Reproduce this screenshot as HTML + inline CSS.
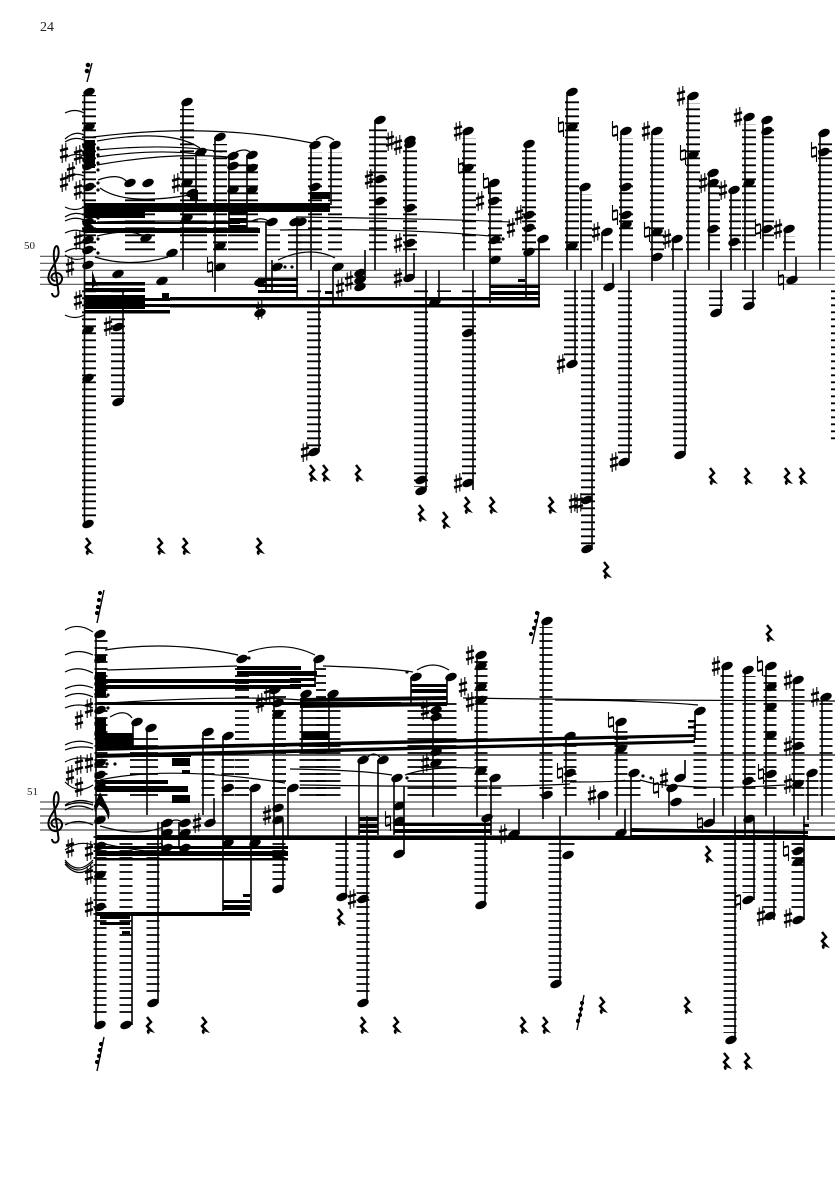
<!DOCTYPE html>
<html><head><meta charset="utf-8"><style>
html,body{margin:0;padding:0;background:#fff}
svg{display:block}
.t{font-family:"Liberation Serif",serif;fill:#222}
.led path{fill:none;stroke:#000;stroke-dasharray:1.8 5.2}
.st{fill:none;stroke:#000;stroke-width:1.6}
.tie{fill:none;stroke:#000;stroke-width:1.2}
</style></head><body>
<svg width="835" height="1181" viewBox="0 0 835 1181" xmlns="http://www.w3.org/2000/svg">
<defs>
<ellipse id="n" cx="0" cy="0" rx="6" ry="3.8" transform="rotate(-22)"/>
<g id="s" fill="none" stroke="#000"><path d="M-1.8 -8.5V10M1.8 -10V8.5" stroke-width="1.1"/><path d="M-4 -2.2L4 -4.6M-4 4.6L4 2.2" stroke-width="2.6"/></g>
<g id="h" fill="none" stroke="#000"><path d="M-2.5 -10V5M2.5 -5V10" stroke-width="1.1"/><path d="M-2.5 -3.6L2.5 -5M-2.5 5L2.5 3.6" stroke-width="2.2"/></g>
<path id="r" d="M-2 -8L2 -3L-2 1L2 5.5C-1 4.5 -2 6 0 8.5" fill="none" stroke="#000" stroke-width="2.5"/>
<path id="c" d="M55.5 281C51 281 50 275 54 273.5C60 271.5 64 277 61 282C58 287 50 286 48.5 279C47.5 272 55 265 58 257C59.5 251 58 246 56.5 246C54 247 53 254 54.5 262L58.5 292C59 298 52 298 52 293" fill="none" stroke="#000" stroke-width="2"/>
<g id="d"><circle cx="0" cy="0" r="1.6"/></g>
</defs>
<text class="t" x="40" y="31" font-size="14">24</text>
<text class="t" x="24" y="249" font-size="11">50</text>
<text class="t" x="27" y="795" font-size="11">51</text>

<!-- staves -->
<path d="M40 256.3H835M40 263.3H835M40 270.3H835M40 277.3H835M40 284.3H835M40 802H835M40 809H835M40 816H835M40 823H835M40 830H835" stroke="#555" stroke-width="1.2" fill="none"/>
<use href="#c"/><use href="#c" y="546"/>

<!-- ledgers staff 1 up -->
<g class="led">
<path stroke-width="14" d="M89 250.2V95M187 250.2V109M200 250.2V159M220 250.2V144M273 250.2V229M295 250.2V229M315 250.2V152M335 250.2V152M469 250.2V138"/>
<path stroke-width="30" d="M140 250.2V190M243 250.2V163"/>
<path stroke-width="18" d="M378 250.2V127"/>
<path stroke-width="14" d="M410 250.2V148M302 250.2V229M495 250.2V190M529 250.2V150M543 250.2V246M572 250.2V99M626 250.2V138M657 250.2V138M693 250.2V103M749 250.2V124M825 250.2V140"/>
<path stroke-width="12" d="M586 250.2V194M607 250.2V239M677 250.2V246M714 250.2V180M735 250.2V197M768 250.2V127M789 250.2V236"/>
<!-- down -->
<path stroke-width="14" d="M89 290.4V520M118 290.4V397M314 290.4V447M421 290.4V487M444 290.4V292M469 290.4V478M571 290.4V357M588 290.4V545M625 290.4V455M680 290.4V450M716 290.4V306M749 290.4V300"/>
<path stroke-width="6" d="M834 290.4V440"/>
<!-- staff 2 up -->
<path stroke-width="13" d="M101 795.9V640M208 795.9V738M228 795.9V742M546 795.9V627M570 795.9V745M621 795.9V730M634 795.9V780M700 795.9V724M727 795.9V672M749 795.9V676M770 795.9V672M798 795.9V686M826 795.9V703M481 795.9V660M495 795.9V785M812 795.9V780"/>
<path stroke-width="28" d="M144 795.9V735"/>
<path stroke-width="14" d="M242 795.9V668M279 795.9V695"/>
<path stroke-width="10" d="M321 795.9V665"/>
<path stroke-width="41" d="M320 795.9V710"/>
<path stroke-width="49" d="M432 795.9V700"/>
<!-- staff 2 down -->
<path stroke-width="13" d="M100 836.1V1018M126 836.1V1018M153 836.1V996M342 836.1V890M363 836.1V996M481 836.1V898M279 836.1V880M555 836.1V978M730 836.1V1033M749 836.1V893M770 836.1V910M798 836.1V912M568 836.1V850"/>
</g>

<!-- beams staff 1 -->
<g fill="#000">
<rect x="84" y="140" width="11" height="28"/>
<rect x="85" y="203" width="245" height="9"/>
<rect x="85" y="212" width="60" height="6"/>
<rect x="310" y="192" width="20" height="7"/>
<rect x="229" y="210" width="18" height="5"/>
<rect x="229" y="218" width="18" height="5"/>
<rect x="229" y="225" width="18" height="3"/>
<rect x="85" y="222" width="155" height="2"/>
<rect x="85" y="228" width="175" height="5"/>
<rect x="85" y="282" width="60" height="3.5"/>
<rect x="85" y="288" width="60" height="4"/>
<rect x="85" y="295" width="60" height="14"/>
<rect x="145" y="298" width="25" height="3"/>
<rect x="145" y="304" width="25" height="3"/>
<rect x="85" y="310" width="85" height="3.5"/>
<rect x="162" y="293" width="7" height="5"/>
<rect x="170" y="297" width="370" height="3.5"/>
<rect x="170" y="304" width="370" height="3.5"/>
<rect x="258" y="278" width="40" height="3"/>
<rect x="258" y="284" width="40" height="3"/>
<rect x="258" y="290" width="40" height="3"/>
<rect x="325" y="291" width="8" height="3"/>
<rect x="490" y="285" width="50" height="3"/>
<rect x="490" y="291" width="50" height="4"/>
<rect x="518" y="279" width="7" height="3"/>
<rect x="190" y="190" width="8" height="10"/>
<path d="M92 290C94 284 98 284 100 292L97 285L92 270Z"/>

<!-- beams staff 2 -->
<rect x="95" y="655" width="11" height="6"/>
<rect x="95" y="672" width="11" height="25"/>
<rect x="95" y="718" width="11" height="20"/>
<rect x="96" y="679" width="205" height="4"/>
<rect x="96" y="685" width="205" height="4"/>
<rect x="237" y="666" width="64" height="4"/>
<rect x="237" y="671" width="80" height="5"/>
<rect x="290" y="678" width="26" height="3"/>
<rect x="290" y="684" width="26" height="3"/>
<rect x="96" y="702" width="305" height="3"/>
<polygon points="96,747 695,734 695,737 96,751"/>
<polygon points="96,754 695,740 695,743 96,758"/>
<polygon points="300,698 447,696 447,700 300,702"/>
<polygon points="300,703 447,702 447,706 300,708"/>
<rect x="411" y="684" width="36" height="3"/>
<rect x="411" y="689" width="36" height="4"/>
<rect x="96" y="733" width="37" height="17"/>
<rect x="302" y="732" width="27" height="8"/>
<rect x="96" y="755" width="95" height="2"/>
<rect x="172" y="758" width="18" height="8"/>
<rect x="182" y="770" width="8" height="4"/>
<rect x="172" y="795" width="18" height="8"/>
<rect x="96" y="780" width="72" height="4"/>
<rect x="96" y="786" width="92" height="6"/>
<polygon points="96,835 835,836 835,840 96,840"/>
<rect x="96" y="846" width="192" height="3"/>
<rect x="96" y="851" width="192" height="5"/>
<rect x="96" y="858" width="192" height="2.5"/>
<rect x="96" y="912" width="154" height="4"/>
<rect x="223" y="900" width="27" height="3"/>
<rect x="223" y="905" width="27" height="5"/>
<rect x="243" y="894" width="7" height="3"/>
<rect x="100" y="916" width="30" height="3"/>
<rect x="100" y="922" width="30" height="3"/>
<rect x="122" y="931" width="8" height="3"/>
<rect x="359" y="817" width="19" height="4"/>
<rect x="359" y="824" width="19" height="4"/>
<rect x="359" y="830" width="19" height="3"/>
<rect x="394" y="823" width="97" height="3"/>
<rect x="394" y="829" width="97" height="4"/>
<polygon points="631,828 808,831 808,834 631,832"/>
<polygon points="631,835 808,835 808,838 631,838"/>
<rect x="688" y="720" width="8" height="2.5"/>
<rect x="688" y="726" width="8" height="2.5"/>
<rect x="803" y="824" width="6" height="3"/>
<path d="M100 792L108 808C110 812 110 816 108 820C108 814 104 808 99 805L95 812L94 806Z"/>
</g>

<!-- stems -->
<path class="st" d="M84.5 92V525M123 290V402M183 102V270M196 152V205M215 137V292M229 156V228M247 155V228M266 222V292M272 260V292M297 222V297M311 145V270M331 145V205M319 270V452M333 267V305M375 120V270M406 142V278M414 253V278M365 250V280M426 270V490M439 270V302M464 131V270M473 270V490M490 183V303M526 144V298M539 239V305M567 92V270M581 187V270M575 270V364M592 270V550M602 232V270M613 263V287M621 131V270M629 270V462M652 131V281M673 239V270M685 270V455M688 96V270M709 173V270M721 270V313M731 190V270M745 117V270M753 270V306M763 120V270M785 229V270M796 257V280M820 133V270"/>
<path class="st" d="M96 634V1025M132 915V1025M158 822V1003M133 722V746M147 728V815M162 822V848M179 822V848M203 732V815M214 798V823M223 736V911M251 788V911M274 690V840M283 820V889M288 788V840M302 694V750M315 659V685M329 694V750M346 816V897M367 816V1003M359 760V835M378 760V835M394 778V835M404 786V854M411 677V705M447 677V705M433 717V817M477 655V817M485 818V905M491 778V835M519 809V834M543 621V819M560 816V985M566 736V816M599 795V820M617 722V816M625 809V833M631 773V840M669 788V816M685 760V778M695 711V740M714 798V823M723 666V816M735 816V1040M745 670V840M754 818V900M766 666V816M774 816V920M794 680V816M804 816V920M808 773V820M822 697V816"/>

<!-- noteheads staff 1 -->
<g fill="#000">
<use href="#n" x="89" y="92"/><use href="#n" x="89" y="127"/><use href="#n" x="88" y="145"/><use href="#n" x="88" y="152"/><use href="#n" x="88" y="159"/><use href="#n" x="88" y="166"/><use href="#n" x="89" y="187"/><use href="#n" x="88" y="222"/><use href="#n" x="88" y="229"/><use href="#n" x="88" y="240"/><use href="#n" x="88" y="250"/><use href="#n" x="88" y="265"/><use href="#n" x="88" y="330"/><use href="#n" x="88" y="378"/><use href="#n" x="88" y="524"/>
<use href="#n" x="130" y="183"/><use href="#n" x="148" y="183"/><use href="#n" x="146" y="238"/><use href="#n" x="118" y="274"/><use href="#n" x="118" y="327"/><use href="#n" x="118" y="402"/><use href="#n" x="162" y="281"/><use href="#n" x="172" y="253"/>
<use href="#n" x="187" y="102"/><use href="#n" x="187" y="183"/><use href="#n" x="192" y="193"/><use href="#n" x="187" y="218"/><use href="#n" x="201" y="152"/><use href="#n" x="220" y="137"/><use href="#n" x="220" y="246"/><use href="#n" x="220" y="267"/>
<use href="#n" x="233" y="156"/><use href="#n" x="233" y="166"/><use href="#n" x="233" y="190"/><use href="#n" x="252" y="155"/><use href="#n" x="252" y="168"/><use href="#n" x="252" y="190"/>
<use href="#n" x="272" y="222"/><use href="#n" x="295" y="222"/><use href="#n" x="277" y="267"/><use href="#n" x="260" y="282"/><use href="#n" x="260" y="313"/><use href="#n" x="301" y="222"/>
<use href="#n" x="315" y="145"/><use href="#n" x="335" y="145"/><use href="#n" x="315" y="187"/><use href="#n" x="338" y="267"/><use href="#n" x="314" y="452"/>
<use href="#n" x="360" y="273"/><use href="#n" x="360" y="280"/><use href="#n" x="360" y="287"/>
<use href="#n" x="380" y="120"/><use href="#n" x="380" y="179"/><use href="#n" x="380" y="201"/><use href="#n" x="410" y="140"/><use href="#n" x="410" y="144"/><use href="#n" x="410" y="208"/><use href="#n" x="410" y="243"/><use href="#n" x="409" y="278"/>
<use href="#n" x="435" y="302"/><use href="#n" x="421" y="480"/><use href="#n" x="421" y="491"/>
<use href="#n" x="468" y="131"/><use href="#n" x="468" y="168"/><use href="#n" x="468" y="333"/><use href="#n" x="468" y="483"/><use href="#n" x="494" y="183"/><use href="#n" x="494" y="201"/><use href="#n" x="495" y="240"/><use href="#n" x="495" y="260"/>
<use href="#n" x="529" y="144"/><use href="#n" x="529" y="215"/><use href="#n" x="529" y="228"/><use href="#n" x="529" y="252"/><use href="#n" x="543" y="239"/>
<use href="#n" x="572" y="92"/><use href="#n" x="572" y="127"/><use href="#n" x="572" y="246"/><use href="#n" x="585" y="187"/><use href="#n" x="572" y="364"/><use href="#n" x="587" y="500"/><use href="#n" x="587" y="549"/>
<use href="#n" x="607" y="232"/><use href="#n" x="609" y="287"/><use href="#n" x="626" y="131"/><use href="#n" x="626" y="187"/><use href="#n" x="626" y="215"/><use href="#n" x="626" y="225"/><use href="#n" x="624" y="462"/>
<use href="#n" x="657" y="131"/><use href="#n" x="657" y="232"/><use href="#n" x="657" y="257"/><use href="#n" x="677" y="239"/><use href="#n" x="680" y="455"/>
<use href="#n" x="693" y="96"/><use href="#n" x="693" y="155"/><use href="#n" x="713" y="173"/><use href="#n" x="713" y="183"/><use href="#n" x="713" y="229"/><use href="#n" x="716" y="313"/>
<use href="#n" x="734" y="190"/><use href="#n" x="734" y="242"/><use href="#n" x="749" y="117"/><use href="#n" x="749" y="183"/><use href="#n" x="749" y="306"/>
<use href="#n" x="767" y="120"/><use href="#n" x="767" y="131"/><use href="#n" x="767" y="229"/><use href="#n" x="789" y="229"/><use href="#n" x="792" y="280"/><use href="#n" x="824" y="133"/><use href="#n" x="824" y="152"/>

<!-- noteheads staff 2 -->
<use href="#n" x="100" y="634"/><use href="#n" x="100" y="659"/><use href="#n" x="100" y="677"/><use href="#n" x="100" y="683"/><use href="#n" x="100" y="693"/><use href="#n" x="100" y="710"/><use href="#n" x="100" y="722"/><use href="#n" x="100" y="733"/><use href="#n" x="100" y="763"/><use href="#n" x="100" y="775"/><use href="#n" x="100" y="787"/><use href="#n" x="100" y="820"/><use href="#n" x="100" y="846"/><use href="#n" x="100" y="875"/><use href="#n" x="100" y="907"/><use href="#n" x="100" y="1025"/>
<use href="#n" x="126" y="1025"/><use href="#n" x="153" y="1003"/><use href="#n" x="137" y="722"/><use href="#n" x="151" y="728"/>
<use href="#n" x="167" y="823"/><use href="#n" x="167" y="833"/><use href="#n" x="167" y="848"/><use href="#n" x="185" y="823"/><use href="#n" x="185" y="833"/><use href="#n" x="185" y="848"/><use href="#n" x="210" y="823"/><use href="#n" x="208" y="732"/>
<use href="#n" x="228" y="736"/><use href="#n" x="228" y="788"/><use href="#n" x="228" y="843"/><use href="#n" x="255" y="788"/><use href="#n" x="255" y="843"/><use href="#n" x="242" y="659"/>
<use href="#n" x="275" y="690"/><use href="#n" x="278" y="703"/><use href="#n" x="278" y="714"/><use href="#n" x="278" y="808"/><use href="#n" x="278" y="820"/><use href="#n" x="278" y="855"/><use href="#n" x="278" y="889"/><use href="#n" x="293" y="788"/>
<use href="#n" x="319" y="659"/><use href="#n" x="306" y="694"/><use href="#n" x="333" y="694"/><use href="#n" x="342" y="897"/><use href="#n" x="363" y="899"/><use href="#n" x="363" y="1003"/><use href="#n" x="363" y="760"/><use href="#n" x="383" y="760"/>
<use href="#n" x="397" y="778"/><use href="#n" x="399" y="806"/><use href="#n" x="399" y="821"/><use href="#n" x="399" y="854"/><use href="#n" x="416" y="677"/><use href="#n" x="451" y="677"/>
<use href="#n" x="436" y="710"/><use href="#n" x="436" y="717"/><use href="#n" x="436" y="752"/><use href="#n" x="436" y="763"/><use href="#n" x="481" y="655"/><use href="#n" x="481" y="666"/><use href="#n" x="481" y="687"/><use href="#n" x="481" y="700"/><use href="#n" x="481" y="771"/><use href="#n" x="487" y="818"/><use href="#n" x="481" y="905"/><use href="#n" x="495" y="778"/><use href="#n" x="514" y="834"/>
<use href="#n" x="547" y="621"/><use href="#n" x="547" y="795"/><use href="#n" x="556" y="984"/><use href="#n" x="568" y="855"/><use href="#n" x="570" y="736"/><use href="#n" x="570" y="773"/><use href="#n" x="603" y="795"/>
<use href="#n" x="621" y="722"/><use href="#n" x="621" y="749"/><use href="#n" x="621" y="833"/><use href="#n" x="634" y="773"/><use href="#n" x="672" y="788"/><use href="#n" x="680" y="778"/><use href="#n" x="676" y="802"/><use href="#n" x="709" y="823"/><use href="#n" x="700" y="711"/>
<use href="#n" x="727" y="666"/><use href="#n" x="731" y="1040"/><use href="#n" x="748" y="670"/><use href="#n" x="748" y="781"/><use href="#n" x="749" y="819"/><use href="#n" x="748" y="900"/><use href="#n" x="770" y="916"/>
<use href="#n" x="771" y="666"/><use href="#n" x="771" y="687"/><use href="#n" x="771" y="707"/><use href="#n" x="771" y="735"/><use href="#n" x="771" y="774"/><use href="#n" x="798" y="680"/><use href="#n" x="798" y="746"/><use href="#n" x="798" y="784"/><use href="#n" x="798" y="851"/><use href="#n" x="798" y="862"/><use href="#n" x="798" y="920"/><use href="#n" x="812" y="773"/><use href="#n" x="826" y="697"/>

<!-- dots -->
<use href="#d" x="98" y="148"/><use href="#d" x="98" y="155"/><use href="#d" x="98" y="163"/><use href="#d" x="98" y="170"/><use href="#d" x="98" y="183"/><use href="#d" x="98" y="190"/><use href="#d" x="98" y="218"/><use href="#d" x="98" y="239"/><use href="#d" x="98" y="253"/>
<use href="#d" x="285" y="267"/><use href="#d" x="292" y="267"/><use href="#d" x="503" y="239"/>
<use href="#d" x="249" y="658"/><use href="#d" x="108" y="695"/><use href="#d" x="108" y="708"/><use href="#d" x="107" y="764"/><use href="#d" x="115" y="764"/><use href="#d" x="407" y="672"/><use href="#d" x="407" y="778"/>
<use href="#d" x="643" y="776"/><use href="#d" x="651" y="778"/>
</g>

<!-- accidentals staff 1 -->
<use href="#s" x="70" y="267"/>
<use href="#s" x="64" y="153"/><use href="#s" x="78" y="155"/><use href="#s" x="71" y="172"/><use href="#s" x="64" y="182"/><use href="#s" x="78" y="190"/><use href="#s" x="78" y="240"/><use href="#s" x="78" y="300"/>
<use href="#s" x="176" y="183"/><use href="#s" x="260" y="310"/><use href="#h" x="210" y="267"/>
<use href="#s" x="108" y="326"/><use href="#s" x="340" y="288"/><use href="#s" x="349" y="281"/><use href="#s" x="369" y="179"/><use href="#s" x="390" y="141"/><use href="#s" x="398" y="145"/><use href="#s" x="398" y="243"/><use href="#s" x="398" y="278"/><use href="#s" x="305" y="452"/>
<use href="#s" x="458" y="131"/><use href="#h" x="461" y="168"/><use href="#s" x="458" y="483"/><use href="#h" x="486" y="183"/><use href="#s" x="480" y="201"/><use href="#s" x="519" y="215"/><use href="#s" x="511" y="228"/>
<use href="#h" x="561" y="127"/><use href="#s" x="561" y="364"/><use href="#s" x="596" y="232"/><use href="#h" x="615" y="131"/><use href="#h" x="615" y="215"/><use href="#s" x="614" y="462"/><use href="#s" x="573" y="503"/><use href="#s" x="579" y="503"/>
<use href="#s" x="646" y="131"/><use href="#h" x="647" y="232"/><use href="#s" x="667" y="239"/><use href="#s" x="681" y="96"/><use href="#h" x="683" y="155"/><use href="#s" x="703" y="183"/><use href="#s" x="723" y="190"/><use href="#s" x="738" y="117"/><use href="#h" x="758" y="229"/><use href="#s" x="778" y="229"/><use href="#h" x="781" y="280"/><use href="#h" x="814" y="152"/>

<!-- accidentals staff 2 -->
<use href="#s" x="89" y="708"/><use href="#s" x="79" y="720"/><use href="#s" x="89" y="763"/><use href="#s" x="79" y="765"/><use href="#s" x="70" y="775"/><use href="#s" x="79" y="787"/>
<use href="#s" x="70" y="848"/><use href="#s" x="89" y="851"/><use href="#s" x="89" y="875"/><use href="#s" x="89" y="907"/>
<use href="#s" x="197" y="823"/><use href="#s" x="268" y="695"/><use href="#s" x="260" y="703"/><use href="#s" x="267" y="815"/>
<use href="#s" x="352" y="899"/><use href="#h" x="388" y="821"/><use href="#s" x="425" y="710"/><use href="#s" x="425" y="763"/><use href="#s" x="470" y="655"/><use href="#s" x="463" y="687"/><use href="#s" x="470" y="702"/><use href="#s" x="503" y="834"/>
<use href="#h" x="560" y="773"/><use href="#s" x="592" y="795"/><use href="#h" x="611" y="722"/><use href="#h" x="656" y="788"/><use href="#s" x="664" y="778"/><use href="#h" x="700" y="823"/>
<use href="#s" x="716" y="666"/><use href="#h" x="760" y="666"/><use href="#h" x="761" y="774"/><use href="#s" x="788" y="680"/><use href="#s" x="788" y="746"/><use href="#s" x="788" y="784"/><use href="#s" x="815" y="697"/><use href="#h" x="738" y="900"/><use href="#s" x="761" y="916"/><use href="#h" x="786" y="851"/><use href="#s" x="788" y="918"/>

<!-- rests -->
<use href="#r" x="312" y="473"/><use href="#r" x="325" y="473"/><use href="#r" x="358" y="473"/><use href="#r" x="421" y="513"/><use href="#r" x="445" y="520"/><use href="#r" x="467" y="505"/><use href="#r" x="492" y="505"/><use href="#r" x="551" y="505"/><use href="#r" x="606" y="570"/><use href="#r" x="712" y="476"/><use href="#r" x="747" y="476"/><use href="#r" x="787" y="476"/><use href="#r" x="802" y="476"/><use href="#r" x="88" y="546"/><use href="#r" x="160" y="546"/><use href="#r" x="185" y="546"/><use href="#r" x="259" y="546"/>
<use href="#r" x="340" y="917"/><use href="#r" x="149" y="1025"/><use href="#r" x="204" y="1025"/><use href="#r" x="363" y="1025"/><use href="#r" x="396" y="1025"/><use href="#r" x="523" y="1025"/><use href="#r" x="545" y="1025"/><use href="#r" x="602" y="1005"/><use href="#r" x="687" y="1005"/><use href="#r" x="726" y="1061"/><use href="#r" x="747" y="1061"/><use href="#r" x="824" y="940"/><use href="#r" x="708" y="854"/><use href="#r" x="769" y="633"/>

<!-- slashed rests / grace flags -->
<g fill="#000" stroke="#000" stroke-width="1.4">
<path d="M87 82L92 63"/><circle cx="88" cy="65" r="1.6"/><circle cx="87" cy="71" r="1.6"/>
<path d="M97 623L104 590"/><circle cx="100" cy="593" r="1.4"/><circle cx="99" cy="600" r="1.4"/><circle cx="98" cy="607" r="1.4"/><circle cx="97" cy="613" r="1.4"/>
<path d="M97 1071L104 1037"/><circle cx="97" cy="1062" r="1.4"/><circle cx="99" cy="1056" r="1.4"/><circle cx="100" cy="1050" r="1.4"/><circle cx="101" cy="1044" r="1.4"/>
<path d="M577 1030L584 995"/><circle cx="578" cy="1021" r="1.4"/><circle cx="580" cy="1015" r="1.4"/><circle cx="581" cy="1009" r="1.4"/><circle cx="582" cy="1003" r="1.4"/>
<path d="M532 644L539 612"/><circle cx="531" cy="634" r="1.4"/><circle cx="534" cy="628" r="1.4"/><circle cx="536" cy="621" r="1.4"/><circle cx="537" cy="613" r="1.4"/>
</g>

<!-- ties -->
<path class="tie" d="M65 113Q75 108 84 113M65 139Q75 130 84 135M65 142Q75 136 84 140M65 158Q75 152 84 156M65 178Q75 172 84 176M65 207Q75 212 84 207M65 217Q75 211 84 215M65 221Q75 216 84 220M65 233Q75 228 84 232M65 252Q75 246 84 250M65 255Q75 262 84 258M65 315Q75 320 84 315
M93 137Q210 122 312 143M97 141Q170 128 200 148M97 150Q170 143 222 152M97 157Q160 148 205 155M97 165Q170 152 228 157M98 180Q120 172 128 183M100 188Q125 206 190 195M97 222Q170 220 268 222M97 236Q130 228 143 236M95 257Q130 268 168 257M278 260Q310 245 335 258M296 217Q450 219 510 222M280 230Q400 228 490 236M316 140Q325 133 334 140M236 152Q245 148 250 152M252 221Q262 216 270 222"/>
<path class="tie" d="M65 630Q78 622 93 632M65 655Q78 648 93 655M65 672Q78 665 93 673M65 689Q78 682 93 688M65 697Q78 690 93 697M65 708Q78 702 93 708M65 745Q78 738 93 744M65 750Q78 745 93 748M65 762Q78 755 93 760M65 782Q78 795 93 785M65 805Q78 797 93 803M65 806Q78 800 93 805M65 850Q78 840 93 845M65 860Q78 876 93 860M65 862Q78 878 93 862M65 864Q78 880 93 866M65 810Q78 802 93 810M65 825Q78 818 93 825
M105 650Q170 640 238 655M248 652Q285 640 315 655M107 670Q170 668 237 666M107 703Q240 695 301 700M323 666Q390 668 413 672M417 670Q433 660 449 670M463 698Q600 700 835 701M555 700Q640 700 698 705M96 755H835M290 769Q360 770 392 775M405 775Q430 766 475 768M300 785Q500 788 570 784M570 782Q620 782 625 780M640 780Q660 786 680 786Q720 789 785 785M110 717Q125 708 132 718M100 780Q170 765 285 783M100 843Q180 860 160 843M100 826Q140 838 165 826M368 757Q373 751 380 757M170 822Q176 818 182 822"/>
</svg>
</body></html>
